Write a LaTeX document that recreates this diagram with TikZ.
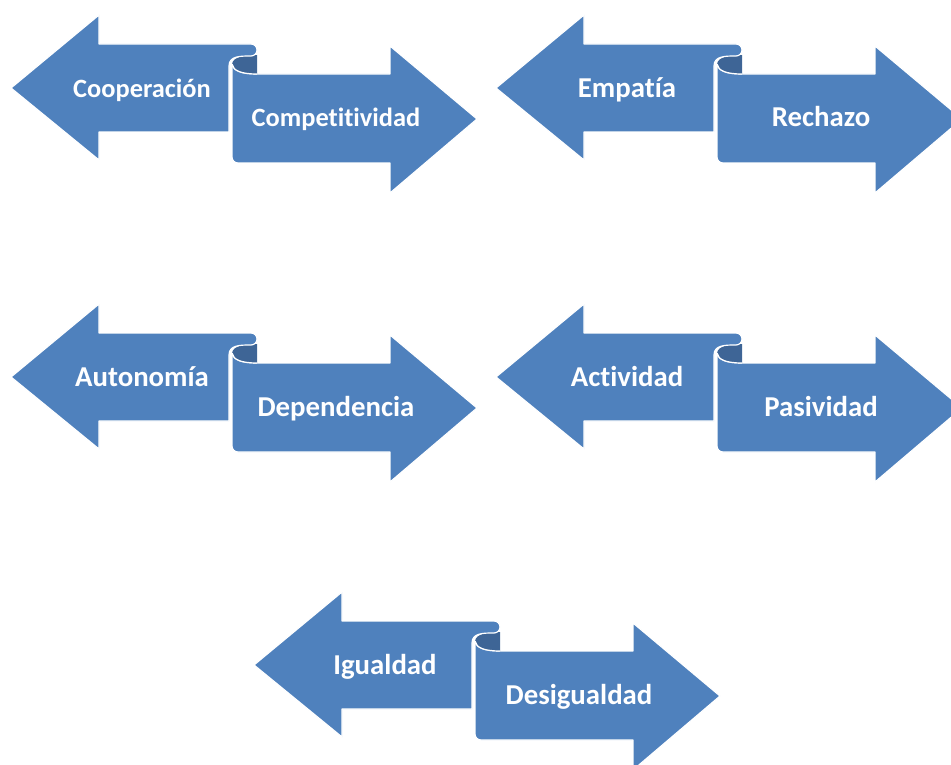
\documentclass[tikz,border=0pt]{standalone}
\usepackage{fontspec}
\setmainfont{Carlito}[Ligatures=NoCommon]
\definecolor{ribblue}{HTML}{4F81BD}
\definecolor{ribdark}{HTML}{3E6596}
\tikzset{
  ribfill/.style={fill=ribblue, draw=white, line width=1.2pt, line join=round},
  ribcurl/.style={fill=ribdark},
  ribtext/.style={text=white, inner sep=0pt, anchor=base}
}
\newcommand\ribbonpair[6]{%
  \begin{scope}[shift={(#1,#2)}]
    % right arrow
    \path[ribfill] (257,74) -- (390,74) -- (390,46) -- (477,119) -- (390,193) -- (390,163)
      -- (238,163) .. controls (234.7,163) and (232,160.3) .. (232,157)
      -- (232,64) .. controls (233,71) and (242,74) .. (257,74) -- cycle;
    % dark curl
    \path[ribcurl] (232,64) .. controls (233,71) and (242,74) .. (257,74)
      -- (257,55) .. controls (244,55) and (233,57) .. (232,64) -- cycle;
    \draw[white, line width=1.2pt] (232,64) .. controls (233,71) and (242,74) .. (257,74);
    % left arrow
    \path[ribfill] (11,88) -- (99,15) -- (99,44) -- (251,44)
      .. controls (254.3,44) and (257,46.7) .. (257,50)
      .. controls (257,53.3) and (254.3,56) .. (251,56)
      .. controls (240,56) and (229,56) .. (229,66)
      -- (229,132) -- (99,132) -- (99,160) -- cycle;
    \node[ribtext, font=\bfseries\fontsize{#6}{#6}\selectfont] (#5l) at (142,97.5) {#3};
    \node[ribtext, font=\bfseries\fontsize{#6}{#6}\selectfont] (#5r) at (336,127) {#4};
  \end{scope}}
\begin{document}
\begin{tikzpicture}[x=1pt,y=-1pt]
  \useasboundingbox (0,0) rectangle (951,765);
  \clip (0,0) rectangle (951,765);
  \ribbonpair{0}{0}{Cooperación}{Competitividad}{a}{26.4}
  \ribbonpair{485}{0}{Empatía}{Rechazo}{b}{28.8}
  \ribbonpair{0}{289}{Autonomía}{Dependencia}{c}{28.8}
  \ribbonpair{485}{289}{Actividad}{Pasividad}{d}{28.8}
  \ribbonpair{243}{577}{Igualdad}{Desigualdad}{e}{28.8}
\end{tikzpicture}
\end{document}
